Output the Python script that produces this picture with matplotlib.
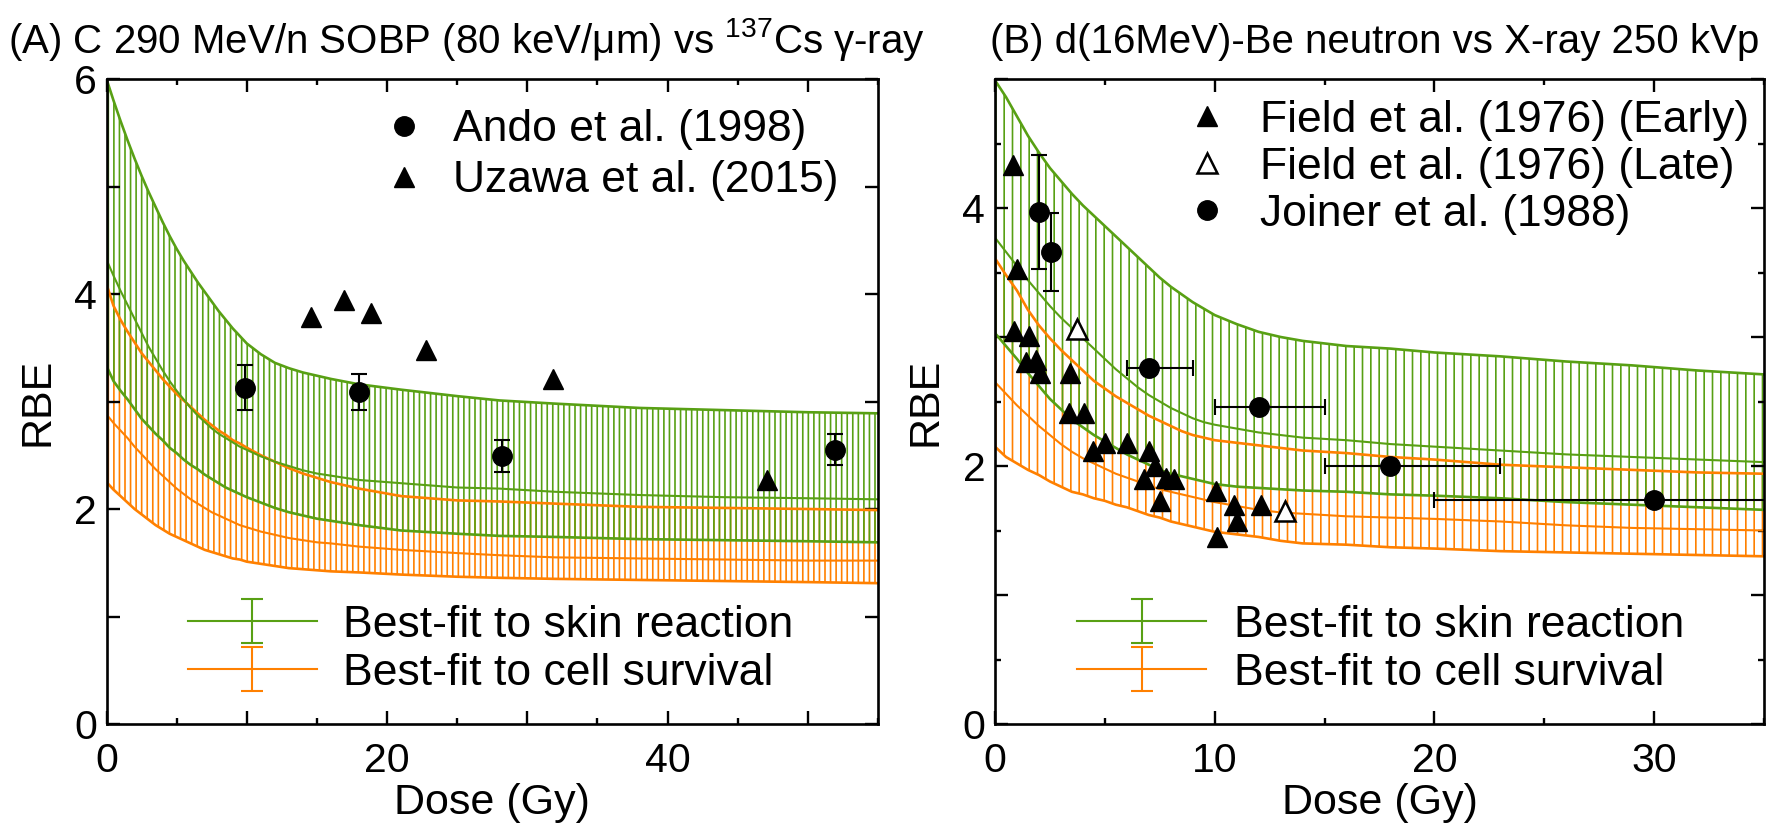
import numpy as np
import matplotlib
matplotlib.use("Agg")
import matplotlib.pyplot as plt
from matplotlib.ticker import MultipleLocator, FuncFormatter

plt.rcParams['font.family'] = ['Liberation Sans', 'DejaVu Sans']
plt.rcParams['mathtext.fontset'] = 'custom'
plt.rcParams['mathtext.rm'] = 'Liberation Sans'
plt.rcParams['mathtext.it'] = 'Liberation Sans:italic'
plt.rcParams['hatch.linewidth'] = 1.2

GREEN = '#58a014'
ORANGE = '#ff8000'

# ---- (A) carbon SOBP vs Cs-137: best-fit RBE with upper / lower limits
dose_a = [0, 0.5, 1, 1.5, 2, 2.5, 3, 3.5, 4, 4.5, 5, 5.5, 6, 6.5, 7, 7.5, 8, 8.5, 9, 9.5, 10,
          11, 12, 13, 14, 15, 16, 18, 21, 25, 28, 32, 38, 44, 50, 55]
skin_a_hi = [6.00, 5.80, 5.61, 5.43, 5.26, 5.10, 4.95, 4.81, 4.67, 4.54, 4.42, 4.31, 4.21, 4.11,
             4.02, 3.93, 3.84, 3.76, 3.68, 3.61, 3.54,
             3.44, 3.36, 3.31, 3.27, 3.24, 3.21, 3.16, 3.11, 3.05, 3.01, 2.98, 2.94, 2.92, 2.90, 2.89]
skin_a_mid = [4.32, 4.17, 4.03, 3.90, 3.77, 3.64, 3.51, 3.40, 3.29, 3.19, 3.10, 3.02, 2.94, 2.87,
              2.81, 2.75, 2.70, 2.66, 2.62, 2.58, 2.55,
              2.49, 2.44, 2.40, 2.36, 2.33, 2.31, 2.27, 2.24, 2.20, 2.19, 2.16, 2.13, 2.11, 2.10, 2.09]
skin_a_lo = [3.33, 3.19, 3.10, 3.02, 2.93, 2.84, 2.77, 2.70, 2.64, 2.57, 2.52, 2.46, 2.41, 2.37,
             2.32, 2.28, 2.24, 2.20, 2.17, 2.14, 2.11,
             2.06, 2.01, 1.97, 1.94, 1.91, 1.89, 1.85, 1.80, 1.77, 1.75, 1.74, 1.72, 1.71, 1.70, 1.69]
cell_a_hi = [4.09, 3.89, 3.76, 3.65, 3.55, 3.45, 3.37, 3.29, 3.21, 3.14, 3.07, 3.01, 2.95, 2.89,
             2.83, 2.78, 2.73, 2.69, 2.64, 2.61, 2.57,
             2.50, 2.44, 2.38, 2.33, 2.29, 2.25, 2.19, 2.12, 2.08, 2.07, 2.05, 2.02, 2.01, 2.00, 1.99]
cell_a_mid = [2.88, 2.80, 2.73, 2.66, 2.58, 2.51, 2.44, 2.37, 2.31, 2.25, 2.19, 2.14, 2.09, 2.05,
              2.01, 1.97, 1.94, 1.91, 1.88, 1.85, 1.83,
              1.79, 1.76, 1.73, 1.71, 1.69, 1.68, 1.65, 1.62, 1.59, 1.57, 1.55, 1.54, 1.53, 1.52, 1.52]
cell_a_lo = [2.25, 2.18, 2.12, 2.06, 2.00, 1.95, 1.90, 1.85, 1.81, 1.77, 1.74, 1.71, 1.68, 1.65,
             1.62, 1.60, 1.58, 1.56, 1.54, 1.53, 1.51,
             1.49, 1.47, 1.45, 1.44, 1.43, 1.42, 1.41, 1.39, 1.37, 1.36, 1.35, 1.34, 1.33, 1.32, 1.31]

ando_dose = [9.9, 18.0, 28.2, 51.9]
ando_rbe = [3.13, 3.09, 2.49, 2.55]
ando_err = [0.21, 0.17, 0.15, 0.145]
uzawa_dose = [14.6, 16.9, 18.85, 22.8, 31.8, 47.1]
uzawa_rbe = [3.79, 3.94, 3.82, 3.48, 3.21, 2.27]

# ---- (B) d(16MeV)-Be neutrons vs 250 kVp X-rays
dose_b = [0, 0.5, 1, 1.5, 2, 2.5, 3, 3.5, 4, 4.5, 5, 5.5, 6, 6.5, 7, 7.5, 8, 8.5, 9, 9.5, 10,
          11, 12, 13, 14, 16, 18, 20, 23, 26, 29, 32, 35]
skin_b_hi = [4.99, 4.86, 4.71, 4.56, 4.43, 4.31, 4.21, 4.11, 4.02, 3.94, 3.86, 3.78, 3.70, 3.62,
             3.54, 3.46, 3.39, 3.33, 3.27, 3.22, 3.17,
             3.10, 3.04, 3.00, 2.97, 2.93, 2.91, 2.88, 2.85, 2.81, 2.78, 2.74, 2.71]
skin_b_mid = [3.77, 3.66, 3.55, 3.44, 3.34, 3.24, 3.15, 3.07, 2.99, 2.91, 2.83, 2.75, 2.68, 2.61,
              2.55, 2.50, 2.45, 2.41, 2.37, 2.34, 2.32,
              2.29, 2.26, 2.24, 2.22, 2.20, 2.17, 2.15, 2.12, 2.09, 2.07, 2.05, 2.03]
skin_b_lo = [3.03, 2.93, 2.83, 2.72, 2.62, 2.52, 2.44, 2.36, 2.30, 2.24, 2.19, 2.14, 2.09, 2.05,
             2.01, 1.97, 1.94, 1.92, 1.90, 1.88, 1.86,
             1.84, 1.83, 1.82, 1.81, 1.80, 1.78, 1.77, 1.75, 1.72, 1.70, 1.68, 1.66]
cell_b_hi = [3.61, 3.48, 3.36, 3.21, 3.09, 2.99, 2.90, 2.82, 2.74, 2.66, 2.60, 2.54, 2.49, 2.44,
             2.39, 2.35, 2.31, 2.27, 2.24, 2.22, 2.20,
             2.18, 2.16, 2.14, 2.12, 2.10, 2.07, 2.05, 2.01, 1.99, 1.97, 1.95, 1.94]
cell_b_mid = [2.65, 2.56, 2.47, 2.39, 2.31, 2.24, 2.17, 2.11, 2.06, 2.02, 1.98, 1.94, 1.91, 1.88,
              1.85, 1.82, 1.80, 1.78, 1.76, 1.74, 1.72,
              1.69, 1.66, 1.64, 1.63, 1.61, 1.60, 1.59, 1.57, 1.54, 1.52, 1.51, 1.50]
cell_b_lo = [2.15, 2.07, 2.02, 1.97, 1.93, 1.88, 1.84, 1.80, 1.78, 1.75, 1.73, 1.70, 1.68, 1.65,
             1.62, 1.60, 1.57, 1.55, 1.53, 1.51, 1.49,
             1.47, 1.45, 1.42, 1.40, 1.39, 1.37, 1.36, 1.34, 1.33, 1.32, 1.31, 1.30]

field_early_dose = [0.8, 1.0, 0.85, 1.55, 1.4, 1.85, 2.05, 3.4, 3.35, 4.05, 4.45, 5.0, 6.0, 7.0, 7.27,
                    6.77, 7.8, 8.15, 7.5, 10.05, 10.87, 11.0, 10.1, 12.1]
field_early_rbe = [4.33, 3.53, 3.05, 3.01, 2.81, 2.82, 2.72, 2.72, 2.41, 2.41, 2.12, 2.18, 2.18, 2.12, 2.0,
                   1.90, 1.91, 1.90, 1.73, 1.81, 1.70, 1.57, 1.45, 1.70]
field_late_dose = [3.74, 13.2]
field_late_rbe = [3.06, 1.65]
joiner_dose = [2.0, 2.53, 7.0, 12.0, 18.0, 30.0]
joiner_rbe = [3.97, 3.66, 2.76, 2.46, 2.00, 1.74]
joiner_dose_lo = [2.0, 2.53, 6.0, 10.0, 15.0, 20.0]
joiner_dose_hi = [2.0, 2.53, 9.0, 15.0, 23.0, 40.0]
joiner_rbe_lo = [3.53, 3.36, 2.76, 2.46, 2.00, 1.74]
joiner_rbe_hi = [4.41, 3.96, 2.76, 2.46, 2.00, 1.74]

FS = 31      # axis label size
LFS = 32     # legend size
TFS = 29.5   # tick label size


def draw_band(ax, dose, lo, mid, hi, color, hatch):
    # vertical hatching between the confidence limits, edges and best fit on top
    ax.fill_between(dose, lo, hi, facecolor='none', edgecolor=color, hatch=hatch,
                    linewidth=0, zorder=1)
    ax.plot(dose, hi, color=color, lw=1.9, zorder=2)
    ax.plot(dose, lo, color=color, lw=1.9, zorder=2)
    ax.plot(dose, mid, color=color, lw=1.5, zorder=2)
    proxy = ax.errorbar([np.nan], [np.nan], yerr=0.1, color=color, lw=1.5, elinewidth=1.5,
                        capsize=8, capthick=1.5)
    return proxy


def style_axes(ax, xmax, ymax, xlabel_step, ylabel_step, yminor):
    ax.set_xlim(0, xmax)
    ax.set_ylim(0, ymax)
    ax.xaxis.set_major_locator(MultipleLocator(10))
    ax.xaxis.set_minor_locator(MultipleLocator(5))
    ax.yaxis.set_major_locator(MultipleLocator(1))
    if yminor:
        ax.yaxis.set_minor_locator(MultipleLocator(yminor))
    ax.xaxis.set_major_formatter(FuncFormatter(
        lambda v, p: f'{v:.0f}' if abs(v / xlabel_step - round(v / xlabel_step)) < 1e-6 else ''))
    ax.yaxis.set_major_formatter(FuncFormatter(
        lambda v, p: f'{v:.0f}' if abs(v / ylabel_step - round(v / ylabel_step)) < 1e-6 else ''))
    ax.tick_params(which='both', direction='in', top=True, right=True, width=1.7, labelsize=TFS)
    ax.tick_params(which='major', length=9.5)
    ax.tick_params(which='minor', length=4.5)
    ax.tick_params(axis='x', pad=13)
    ax.tick_params(axis='y', pad=7)
    for s in ax.spines.values():
        s.set_linewidth(1.9)
    ax.set_xlabel('Dose (Gy)', fontsize=FS)
    ax.set_ylabel('RBE', fontsize=FS)
    ax.xaxis.set_label_coords(0.5, -0.0915)
    ax.yaxis.set_label_coords(-0.064, 0.5)


def model_legend(ax, handles, x0, pad):
    leg = ax.legend(handles, ['Best-fit to skin reaction', 'Best-fit to cell survival'],
                    loc='lower left', bbox_to_anchor=(x0, 0.047), frameon=False, fontsize=LFS,
                    handlelength=2.9, handletextpad=pad, borderpad=0, borderaxespad=0,
                    labelspacing=0.16)
    ax.add_artist(leg)


fig = plt.figure(figsize=(17.82, 8.23), dpi=100)
W, H = 1782, 823
ax_a = fig.add_axes([106.5 / W, (H - 724) / H, (878 - 106.5) / W, (724 - 79) / H])
ax_b = fig.add_axes([995 / W, (H - 724) / H, (1764 - 995) / W, (724 - 79) / H])

# ---- panel A
h_cell = draw_band(ax_a, dose_a, cell_a_lo, cell_a_mid, cell_a_hi, ORANGE, '|||')
h_skin = draw_band(ax_a, dose_a, skin_a_lo, skin_a_mid, skin_a_hi, GREEN, '|||')
ax_a.errorbar(ando_dose, ando_rbe, yerr=ando_err, fmt='none', ecolor='black', elinewidth=1.5,
              capsize=6, capthick=1.5, zorder=5)
h_ando, = ax_a.plot(ando_dose, ando_rbe, 'o', color='black', ms=14, zorder=6)
h_uzawa, = ax_a.plot(uzawa_dose, uzawa_rbe, '^', color='black', ms=14.5, zorder=6)
style_axes(ax_a, 55, 6, 20, 2, None)

model_legend(ax_a, [h_skin, h_cell], 0.1055, 0.58)
ax_a.legend([h_ando, h_uzawa], ['Ando et al. (1998)', 'Uzawa et al. (2015)'],
            loc='upper left', bbox_to_anchor=(0.357, 0.953), frameon=False, fontsize=LFS,
            handlelength=1.0, handletextpad=0.6, borderpad=0, borderaxespad=0,
            labelspacing=0.225)

# ---- panel B
h_cell = draw_band(ax_b, dose_b, cell_b_lo, cell_b_mid, cell_b_hi, ORANGE, '||')
h_skin = draw_band(ax_b, dose_b, skin_b_lo, skin_b_mid, skin_b_hi, GREEN, '||')
jd = np.array(joiner_dose)
jr = np.array(joiner_rbe)
ax_b.errorbar(jd, jr,
              xerr=[jd - np.array(joiner_dose_lo), np.array(joiner_dose_hi) - jd],
              yerr=[jr - np.array(joiner_rbe_lo), np.array(joiner_rbe_hi) - jr],
              fmt='none', ecolor='black', elinewidth=1.5, capsize=6, capthick=1.5, zorder=5)
h_fe, = ax_b.plot(field_early_dose, field_early_rbe, '^', color='black', ms=14.5, zorder=6)
h_fl, = ax_b.plot(field_late_dose, field_late_rbe, '^', color='black', mfc='white', mew=1.8,
                  ms=14.5, zorder=6)
h_jo, = ax_b.plot(joiner_dose, joiner_rbe, 'o', color='black', ms=14, zorder=6)
style_axes(ax_b, 35, 5, 10, 2, 0.5)

model_legend(ax_b, [h_skin, h_cell], 0.107, 0.62)
ax_b.legend([h_fe, h_fl, h_jo],
            ['Field et al. (1976) (Early)', 'Field et al. (1976) (Late)', 'Joiner et al. (1988)'],
            loc='upper left', bbox_to_anchor=(0.247, 0.968), frameon=False, fontsize=LFS,
            handlelength=1.0, handletextpad=0.69, borderpad=0, borderaxespad=0,
            labelspacing=0.135)

fig.text(8 / W, 1 - 53 / H, '(A) C 290 MeV/n SOBP (80 keV/μm) vs $^{137}$Cs γ-ray',
         fontsize=29, va='baseline', ha='left')
fig.text(990 / W, 1 - 53 / H, '(B) d(16MeV)-Be neutron vs X-ray 250 kVp',
         fontsize=29, va='baseline', ha='left')

fig.savefig('out.png', dpi=100)
